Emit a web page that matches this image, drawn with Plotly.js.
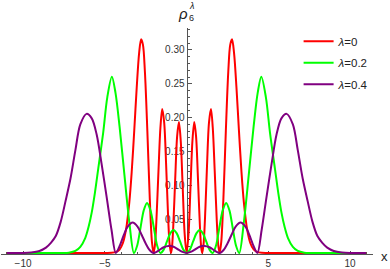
<!DOCTYPE html>
<html>
<head>
<meta charset="utf-8">
<script src="https://cdn.plot.ly/plotly-3.0.1.min.js"></script>
<style>html,body{margin:0;padding:0;background:#fff}#chart{width:390px;height:269px}</style>
</head>
<body>
<div id="chart"></div>
<script>
// lambda = 0
const xRed = [-11, -5, -4.6, -4.3, -4.1, -3.9, -3.7, -3.5, -3.35, -3.2, -3.05, -2.9, -2.78, -2.67, -2.55, -2.4, -2.25, -2.12, -2.02, -1.94, -1.85, -1.72, -1.6, -1.49, -1.37, -1.25, -1.15, -1.05, -0.96, -0.9, -0.82, -0.7, -0.58, -0.47, -0.36, -0.24, -0.12,
  0, 0.12, 0.24, 0.36, 0.47, 0.58, 0.7, 0.82, 0.9, 0.96, 1.05, 1.15, 1.25, 1.37, 1.49, 1.6, 1.72, 1.85, 1.94, 2.02, 2.12, 2.25, 2.4, 2.55, 2.67, 2.78, 2.9, 3.05, 3.2, 3.35, 3.5, 3.7, 3.9, 4.1, 4.3, 4.6, 5, 11];
const yRed = [0, 0, 0.0002, 0.0017, 0.0052, 0.0144, 0.0352, 0.0756, 0.1222, 0.1813, 0.2446, 0.2962, 0.3157, 0.308, 0.2682, 0.1804, 0.0798, 0.0165, 0, 0.0107, 0.0457, 0.1211, 0.1855, 0.2128, 0.1927, 0.1295, 0.0657, 0.0165, 0, 0.0069, 0.0365, 0.1071, 0.172, 0.1934, 0.1666, 0.0983, 0.0289,
  0, 0.0289, 0.0983, 0.1666, 0.1934, 0.172, 0.1071, 0.0365, 0.0069, 0, 0.0165, 0.0657, 0.1295, 0.1927, 0.2128, 0.1855, 0.1211, 0.0457, 0.0107, 0, 0.0165, 0.0798, 0.1804, 0.2682, 0.308, 0.3157, 0.2962, 0.2446, 0.1813, 0.1222, 0.0756, 0.0352, 0.0144, 0.0052, 0.0017, 0.0002, 0, 0];

// lambda = 0.2
const xGreen = [-11, -7.6, -7.2, -6.8, -6.5, -6.2, -6.0, -5.8, -5.6, -5.4, -5.1, -4.85, -4.57, -4.35, -4.1, -3.8, -3.5, -3.22, -3.02, -2.82, -2.62, -2.42, -2.21, -2.0, -1.8, -1.6, -1.4, -1.2, -1.0, -0.8, -0.6, -0.4, -0.2,
  0, 0.2, 0.4, 0.6, 0.8, 1.0, 1.2, 1.4, 1.6, 1.8, 2.0, 2.21, 2.42, 2.62, 2.82, 3.02, 3.22, 3.5, 3.8, 4.1, 4.35, 4.57, 4.85, 5.1, 5.4, 5.6, 5.8, 6.0, 6.2, 6.5, 6.8, 7.2, 7.6, 11];
const yGreen = [0, 0, 0.0005, 0.003, 0.009, 0.022, 0.038, 0.06, 0.09, 0.125, 0.178, 0.23, 0.2605, 0.237, 0.187, 0.115, 0.045, 0, 0.011, 0.037, 0.063, 0.074, 0.063, 0.037, 0.011, 0, 0.005, 0.017, 0.029, 0.034, 0.029, 0.017, 0.005,
  0, 0.005, 0.017, 0.029, 0.034, 0.029, 0.017, 0.005, 0, 0.011, 0.037, 0.063, 0.074, 0.063, 0.037, 0.011, 0, 0.045, 0.115, 0.187, 0.237, 0.2605, 0.23, 0.178, 0.125, 0.09, 0.06, 0.038, 0.022, 0.009, 0.003, 0.0005, 0, 0];

// lambda = 0.4
const xPurple = [-11, -10, -9.5, -9.0, -8.6, -8.3, -8.0, -7.7, -7.4, -7.1, -6.8, -6.5, -6.12, -5.8, -5.5, -5.2, -4.89, -4.59, -4.33, -4.1, -3.85, -3.6, -3.3, -3.0, -2.75, -2.5, -2.25, -2.04, -1.9, -1.7, -1.4, -1.1, -0.8, -0.5, -0.25,
  0, 0.25, 0.5, 0.8, 1.1, 1.4, 1.7, 1.9, 2.04, 2.25, 2.5, 2.75, 3.0, 3.3, 3.6, 3.85, 4.1, 4.33, 4.59, 4.89, 5.2, 5.5, 5.8, 6.12, 6.5, 6.8, 7.1, 7.4, 7.7, 8.0, 8.3, 8.6, 9.0, 9.5, 10, 11];
const yPurple = [0, 0.0001, 0.0008, 0.003, 0.008, 0.015, 0.025, 0.046, 0.077, 0.11, 0.152, 0.19, 0.2056, 0.199, 0.175, 0.132, 0.083, 0.034, 0, 0.01, 0.026, 0.039, 0.045, 0.039, 0.027, 0.014, 0.004, 0, 0.001, 0.0038, 0.0085, 0.0105, 0.0093, 0.005, 0.0016,
  0, 0.0016, 0.005, 0.0093, 0.0105, 0.0085, 0.0038, 0.001, 0, 0.004, 0.014, 0.027, 0.039, 0.045, 0.039, 0.026, 0.01, 0, 0.034, 0.083, 0.132, 0.175, 0.199, 0.2056, 0.19, 0.152, 0.11, 0.077, 0.046, 0.025, 0.015, 0.008, 0.003, 0.0008, 0.0001, 0];

const seriesNames = ['<i>λ</i>=0', '<i>λ</i>=0.2', '<i>λ</i>=0.4'];
const seriesColors = ['#FF0000', '#00FF00', '#800080'];
const xTickVals = [-10, -5, 5, 10];
const xTickText = ['\u221210', '\u22125', '5', '10'];
const yTickVals = [0.05, 0.10, 0.15, 0.20, 0.25, 0.30];
const yTickText = ['0.05', '0.10', '0.15', '0.20', '0.25', '0.30'];

const xs = [xRed, xGreen, xPurple];
const ys = [yRed, yGreen, yPurple];
const traces = xs.map((x, i) => ({
  x: x, y: ys[i], type: 'scatter', mode: 'lines', name: seriesNames[i], legendgroup: 'g' + i,
  line: {color: seriesColors[i], width: 2, shape: 'spline', smoothing: 0.9}
}));

const axisColor = '#555';
const font = {family: 'Liberation Sans, Arial, sans-serif', size: 10, color: '#333'};
const xr = [-11.35, 11.4];
const yr = [-0.0015, 0.3325];
const layout = {
  width: 390, height: 269,
  margin: {l: 1, r: 17, t: 28, b: 15},
  paper_bgcolor: '#fff', plot_bgcolor: '#fff',
  font: font,
  showlegend: true,
  legend: {x: 0.80, y: 1.005, xanchor: 'left', yanchor: 'top', bgcolor: 'rgba(0,0,0,0)',
           font: {family: 'Liberation Sans, Arial, sans-serif', size: 11.5, color: '#222'}, tracegroupgap: 2.5},
  xaxis: {range: xr, showgrid: false, zeroline: false, showline: true, linecolor: axisColor, linewidth: 1,
          ticks: 'inside', ticklen: 3.5, tickcolor: axisColor, tickmode: 'array', tickvals: xTickVals, ticktext: xTickText,
          minor: {ticks: 'inside', ticklen: 2, dtick: 1, tick0: 0, tickcolor: axisColor},
          tickfont: font, layer: 'below traces', fixedrange: true},
  yaxis: {range: yr, showgrid: false, zeroline: false, showline: true, linecolor: axisColor, linewidth: 1,
          anchor: 'free', position: (0 - xr[0]) / (xr[1] - xr[0]),
          ticks: 'inside', ticklen: 4, tickcolor: axisColor, tickmode: 'array', tickvals: yTickVals, ticktext: yTickText,
          minor: {ticks: 'inside', ticklen: 2, dtick: 0.01, tick0: 0, tickcolor: axisColor},
          tickfont: font, layer: 'below traces', fixedrange: true},
  annotations: [
    {text: 'x', xref: 'paper', yref: 'paper', x: 1.032, y: -0.012, xanchor: 'center', yanchor: 'middle', showarrow: false,
     font: {family: 'Liberation Sans, Arial, sans-serif', size: 13, color: '#222'}},
    {text: '<i>ρ</i>', xref: 'paper', yref: 'paper', x: 0.49, y: 1.062, xanchor: 'center', yanchor: 'middle', showarrow: false,
     font: {family: 'Liberation Sans, Arial, sans-serif', size: 15, color: '#222'}},
    {text: '6', xref: 'paper', yref: 'paper', x: 0.512, y: 1.045, xanchor: 'center', yanchor: 'middle', showarrow: false,
     font: {family: 'Liberation Sans, Arial, sans-serif', size: 9, color: '#222'}},
    {text: '<i>λ</i>', xref: 'paper', yref: 'paper', x: 0.512, y: 1.098, xanchor: 'center', yanchor: 'middle', showarrow: false,
     font: {family: 'Liberation Sans, Arial, sans-serif', size: 9, color: '#222'}}
  ]
};
Plotly.newPlot('chart', traces, layout, {staticPlot: true, displayModeBar: false});
</script>
</body>
</html>
